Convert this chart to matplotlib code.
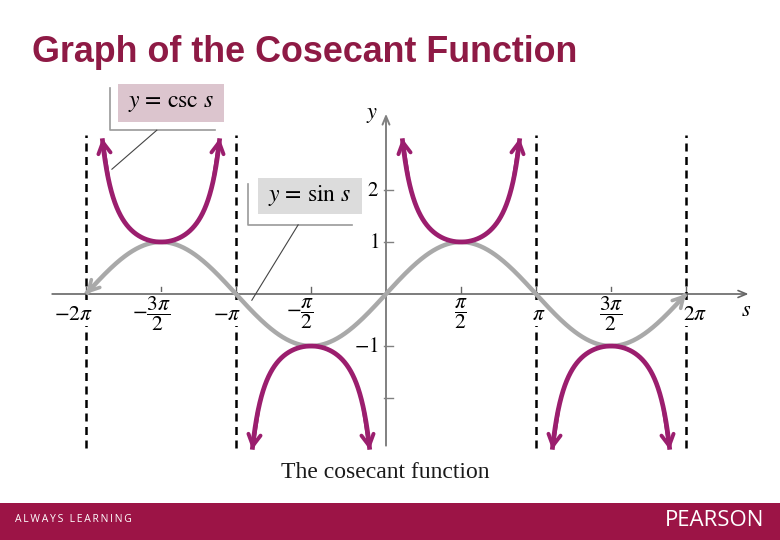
import numpy as np
import matplotlib
matplotlib.use("Agg")
import matplotlib.pyplot as plt
from matplotlib.patches import Rectangle

# ---- data ----
PERIOD_START, PERIOD_END = -2 * np.pi, 2 * np.pi          # sine drawn over [-2pi, 2pi]
ASYMPTOTES = [-2 * np.pi, -np.pi, np.pi, 2 * np.pi]       # dashed verticals
BRANCH_STARTS = [-2 * np.pi, -np.pi, 0.0, np.pi]          # csc branches (k*pi, (k+1)*pi)
CSC_CLIP = 3.0                                            # branches cut at |csc s| = 3
XTICKS = [-2 * np.pi, -1.5 * np.pi, -np.pi, -0.5 * np.pi, 0.5 * np.pi, np.pi, 1.5 * np.pi, 2 * np.pi]
XTICK_LABELS = [r"$-2\pi$", r"$-\dfrac{3\pi}{2}$", r"$-\pi$", r"$-\dfrac{\pi}{2}$",
                r"$\dfrac{\pi}{2}$", r"$\pi$", r"$\dfrac{3\pi}{2}$", r"$2\pi$"]
XTICK_DX = [-0.27, -0.19, -0.19, -0.23, 0.0, 0.05, 0.0, 0.2]
YTICKS = [-2, -1, 1, 2]
YTICK_LABELS = ["", r"$-1$", r"$1$", r"$2$"]

MAROON = "#8e1a45"
BAND = "#9c1446"
CSC_C = "#9b1e6e"
SIN_C = "#a9a9a9"

plt.rcParams["mathtext.fontset"] = "stix"

fig = plt.figure(figsize=(7.8, 5.4), dpi=100)
# axes spanning whole canvas; limits chosen so 1 unit = 47.75 px (x), 52 px (y)
ax = fig.add_axes([0, 0, 1, 1])
ax.set_xlim(-386 / 47.75, (780 - 386) / 47.75)
ax.set_ylim((294 - 540) / 52, 294 / 52)
ax.axis("off")

# axes with open arrows
ax.annotate("", xy=(7.65, 0), xytext=(-7.05, 0),
            arrowprops=dict(arrowstyle="->,head_length=0.6,head_width=0.25", color="#666666", lw=1.2))
ax.annotate("", xy=(0, 3.52), xytext=(0, -2.97),
            arrowprops=dict(arrowstyle="->,head_length=0.6,head_width=0.25", color="#808080", lw=1.4))
ax.text(-0.3, 3.45, r"$y$", fontsize=16, ha="center", va="center")
ax.text(7.55, -0.3, r"$s$", fontsize=16, ha="center", va="center")

# ticks
for t, lab, dx in zip(XTICKS, XTICK_LABELS, XTICK_DX):
    ax.plot([t, t], [0, 0.14], color="#666666", lw=1.0)
    ax.text(t + dx, -0.38, lab, fontsize=15.5, ha="center", va="center", zorder=2.5,
            bbox=dict(boxstyle="square,pad=0.12", facecolor="white", edgecolor="none"))
for t, lab in zip(YTICKS, YTICK_LABELS):
    ax.plot([-0.05, 0.14], [t, t], color="#808080", lw=1.0)
    if lab:
        ax.text(-0.15, t, lab, fontsize=15, ha="right", va="center")

# asymptotes
for a in ASYMPTOTES:
    ax.plot([a, a], [-2.96, 3.06], color="black", lw=1.8, ls=(0, (3.2, 2.2)), zorder=2)

def arrow_end(xs, ys, color, lw, size):
    style = f"->,head_length={size},head_width={size*0.55}"
    ax.annotate("", xy=(xs[-1], ys[-1]), xytext=(xs[-4], ys[-4]),
                arrowprops=dict(arrowstyle=style, color=color, lw=lw, shrinkA=0, shrinkB=0), zorder=4)
    ax.annotate("", xy=(xs[0], ys[0]), xytext=(xs[3], ys[3]),
                arrowprops=dict(arrowstyle=style, color=color, lw=lw, shrinkA=0, shrinkB=0), zorder=4)

# sine
s = np.linspace(PERIOD_START, PERIOD_END, 800)
ax.plot(s, np.sin(s), color=SIN_C, lw=3.2, zorder=3, solid_capstyle="butt")
arrow_end(s, np.sin(s), SIN_C, 2.6, 0.75)

# cosecant branches
for k0 in BRANCH_STARTS:
    ss = np.linspace(k0 + 1e-4, k0 + np.pi - 1e-4, 3000)
    cc = 1 / np.sin(ss)
    m = np.abs(cc) <= CSC_CLIP
    ss, cc = ss[m], cc[m]
    ax.plot(ss, cc, color=CSC_C, lw=3.4, zorder=5, solid_capstyle="butt")
    idx = np.linspace(0, len(ss) - 1, 60).astype(int)
    arrow_end(ss[idx], cc[idx], CSC_C, 2.8, 0.8)

# callout labels
def callout(x0, x1, y0, y1, fill, label, bx, by_top, by_bot, hx1, d0, d1):
    ax.add_patch(Rectangle((x0, y0), x1 - x0, y1 - y0, facecolor=fill, edgecolor="none", zorder=6))
    ax.text((x0 + x1) / 2, (y0 + y1) / 2, label, fontsize=17, family="STIXGeneral",
            ha="center", va="center", zorder=7)
    ax.plot([bx, bx, hx1], [by_top, by_bot, by_bot], color="#9a9a9a", lw=1.2, zorder=6)
    ax.plot([d0[0], d1[0]], [d0[1], d1[1]], color="#444444", lw=0.8, zorder=6)

callout(-5.61, -3.39, 3.31, 4.04, "#dcc5ce", r"$y$ = csc $s$",
        -5.78, 3.96, 3.15, -3.58, (-4.80, 3.15), (-5.74, 2.40))
callout(-2.68, -0.50, 1.54, 2.23, "#dcdcdc", r"$y$ = sin $s$",
        -2.89, 2.12, 1.33, -0.71, (-1.84, 1.33), (-2.81, -0.12))

# caption, title and footer band
fig.text(0.494, 1 - 473 / 540, "The cosecant function", fontsize=17,
         family="Liberation Serif", ha="center", va="center", color="#1a1a1a")
fig.text(0.041, 1 - 53 / 540, "Graph of the Cosecant Function", fontsize=25.8,
         family="Liberation Sans", weight="bold", color=MAROON, ha="left", va="center")
fig.patches.append(Rectangle((0, 0), 1, 37 / 540, transform=fig.transFigure,
                             facecolor=BAND, edgecolor="none", zorder=0))
fig.text(0.019, 1 - 520 / 540, "\u2009".join("ALWAYS LEARNING"), fontsize=7.5, family="Open Sans",
         color="white", ha="left", va="center")
fig.text(0.980, 1 - 520 / 540, "PEARSON", fontsize=16, family="Open Sans",
         color="white", ha="right", va="center")

fig.savefig("out.png", dpi=100)
